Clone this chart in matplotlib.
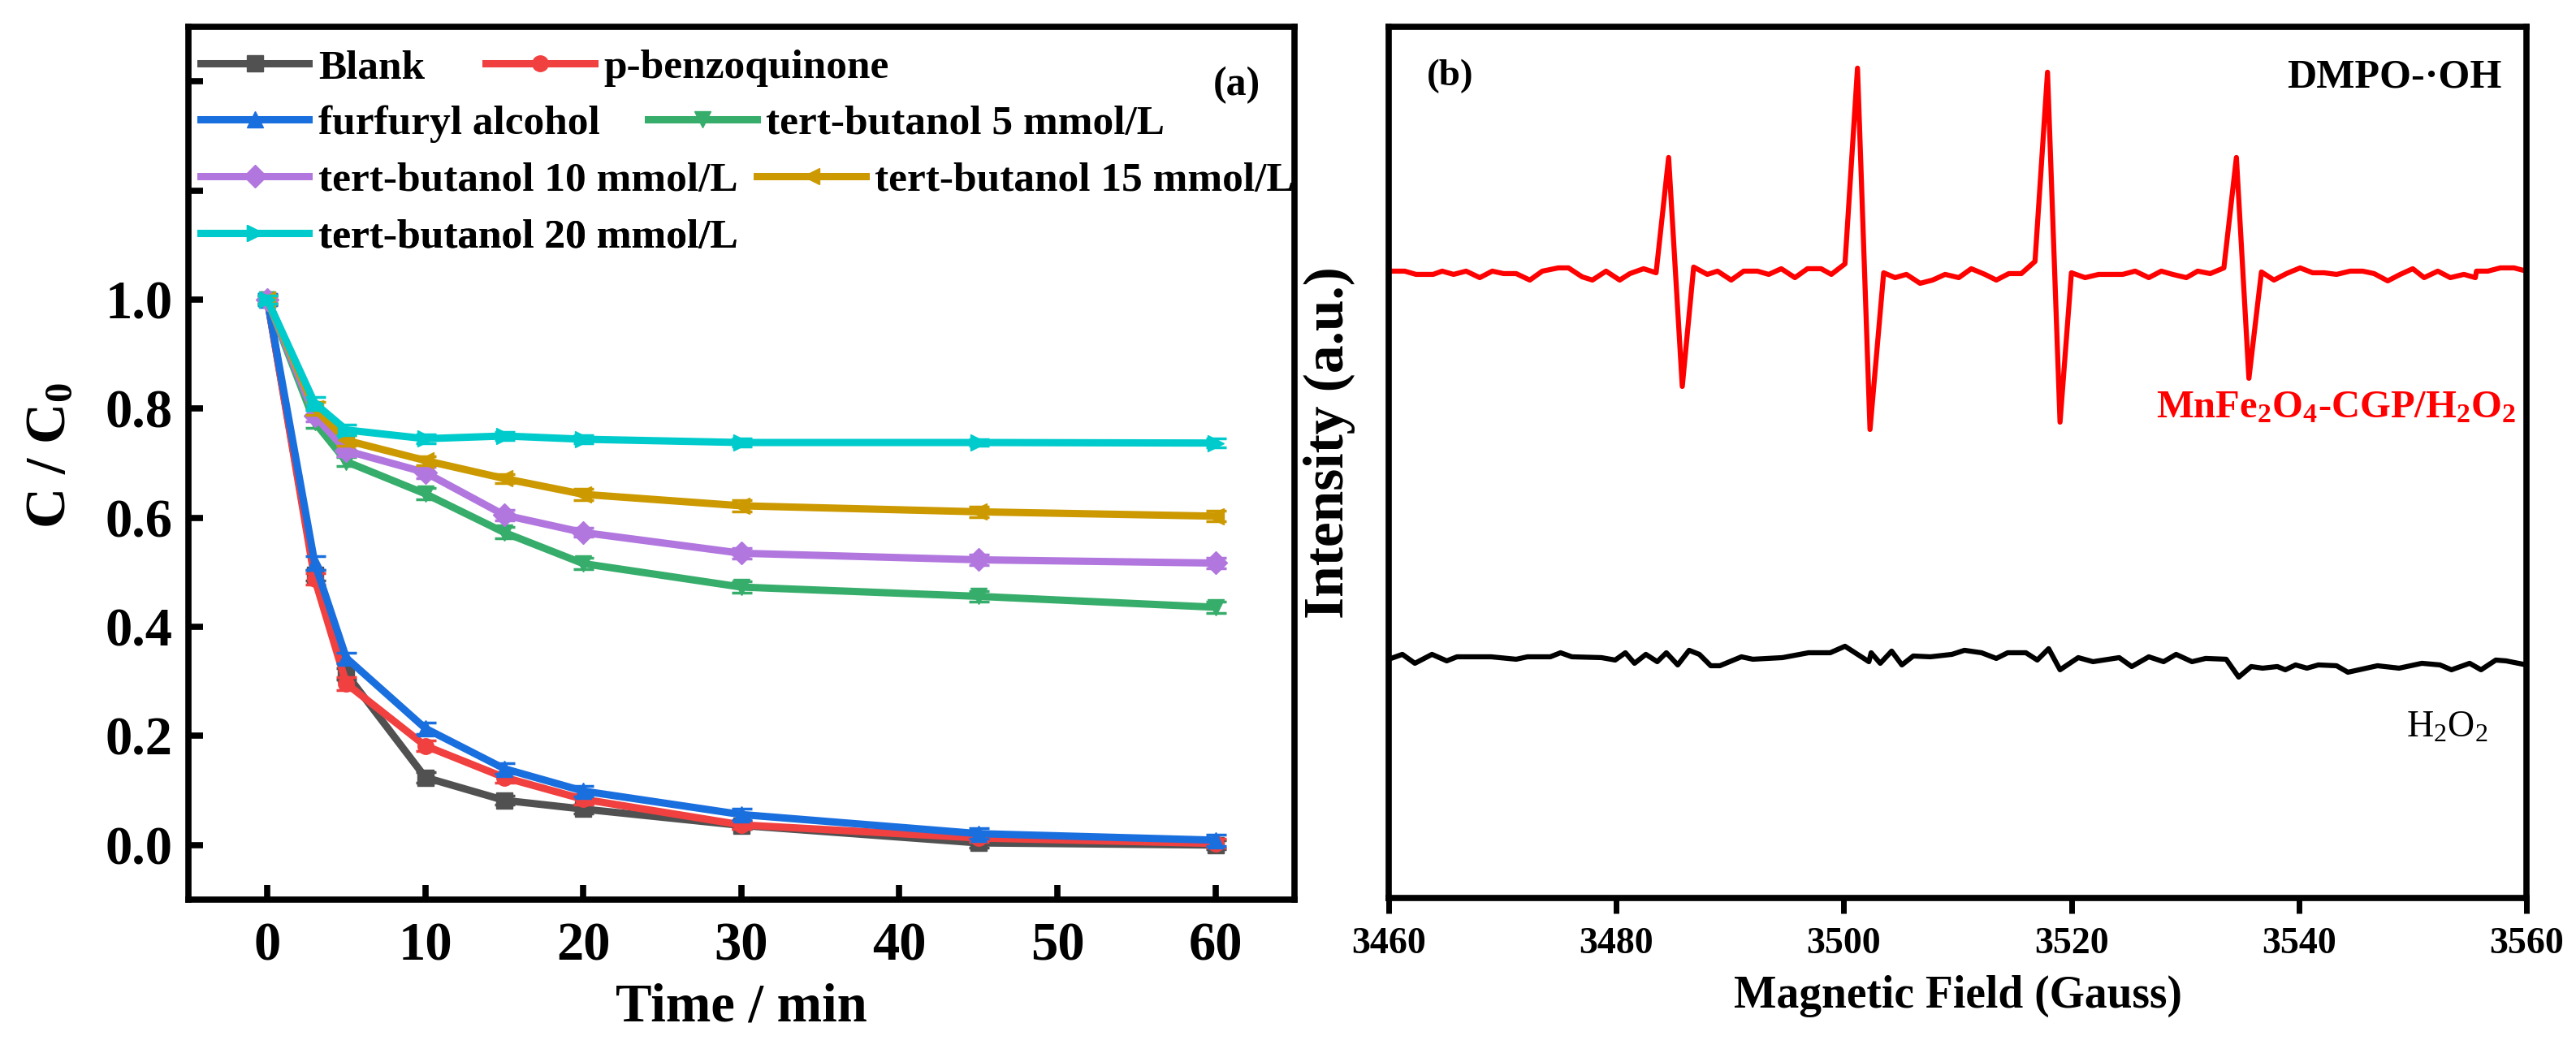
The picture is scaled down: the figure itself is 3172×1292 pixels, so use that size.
import matplotlib
matplotlib.use('Agg')
import matplotlib.pyplot as plt

plt.rcParams['font.family'] = 'Liberation Serif'
plt.rcParams['font.weight'] = 'bold'
plt.rcParams['axes.labelweight'] = 'bold'
plt.rcParams['mathtext.default'] = 'regular'

# ---- panel (a): degradation curves ----
time = [0, 3, 5, 10, 15, 20, 30, 45, 60]
labels = ['Blank', 'p-benzoquinone', 'furfuryl alcohol', 'tert-butanol 5 mmol/L',
          'tert-butanol 10 mmol/L', 'tert-butanol 15 mmol/L', 'tert-butanol 20 mmol/L']
blank = [1.0, 0.495, 0.314, 0.124, 0.082, 0.066, 0.036, 0.004, 0.0]
pbq = [1.0, 0.488, 0.296, 0.182, 0.124, 0.084, 0.037, 0.013, 0.003]
ffa = [1.0, 0.517, 0.343, 0.214, 0.140, 0.099, 0.056, 0.021, 0.009]
tba5 = [1.0, 0.775, 0.703, 0.644, 0.573, 0.516, 0.473, 0.456, 0.436]
tba10 = [1.0, 0.787, 0.723, 0.683, 0.605, 0.573, 0.535, 0.523, 0.517]
tba15 = [1.0, 0.800, 0.742, 0.705, 0.672, 0.643, 0.622, 0.611, 0.603]
tba20 = [1.0, 0.810, 0.761, 0.745, 0.750, 0.744, 0.738, 0.738, 0.737]
err_blank = [0.008, 0.01, 0.01, 0.01, 0.008, 0.008, 0.006, 0.008, 0.008]
err_pbq = [0.008, 0.01, 0.012, 0.01, 0.01, 0.01, 0.008, 0.008, 0.008]
err_ffa = [0.01, 0.012, 0.01, 0.01, 0.01, 0.01, 0.01, 0.01, 0.01]
err_tba5 = [0.008, 0.01, 0.008, 0.01, 0.01, 0.01, 0.01, 0.01, 0.01]
err_tba10 = [0.008, 0.01, 0.01, 0.01, 0.01, 0.008, 0.01, 0.01, 0.01]
err_tba15 = [0.008, 0.012, 0.01, 0.008, 0.008, 0.01, 0.01, 0.01, 0.01]
err_tba20 = [0.008, 0.012, 0.01, 0.008, 0.008, 0.008, 0.008, 0.006, 0.008]

series = [blank, pbq, ffa, tba5, tba10, tba15, tba20]
errors = [err_blank, err_pbq, err_ffa, err_tba5, err_tba10, err_tba15, err_tba20]
colors = ['#515151', '#F14040', '#1A6FDF', '#37AD6B', '#B177DE', '#CC9900', '#00CBCC']
markers = ['s', 'o', '^', 'v', 'D', '<', '>']
# legend entry anchors (axes fraction), laid out like the original flowing legend
legend_pos = [(0.011, 0.953), (0.269, 0.953), (0.011, 0.889), (0.416, 0.889),
              (0.011, 0.824), (0.514, 0.824), (0.011, 0.759)]

yticks = [0.0, 0.2, 0.4, 0.6, 0.8, 1.0, 1.2, 1.4]
yticklabels = ['0.0', '0.2', '0.4', '0.6', '0.8', '1.0', '', '']
xticks = [0, 10, 20, 30, 40, 50, 60]

# ---- panel (b): EPR spectra ----
field_red = [3460.1, 3461.4, 3462.4, 3463.9, 3464.7, 3465.7, 3466.8, 3468.0, 3469.1, 3470.1,
             3471.2, 3472.4, 3473.5, 3474.9, 3475.8, 3477.0, 3477.9, 3479.1, 3480.3, 3481.2,
             3482.4, 3483.5, 3484.6, 3485.8, 3486.8, 3488.0, 3488.9, 3490.1, 3491.2, 3492.4,
             3493.4, 3494.5, 3495.7, 3496.8, 3498.0, 3498.9, 3500.1, 3501.2, 3502.3, 3503.5,
             3504.5, 3505.5, 3506.7, 3507.8, 3508.9, 3510.1, 3511.2, 3512.4, 3513.4, 3514.5,
             3515.6, 3516.8, 3517.9, 3519.0, 3520.0, 3521.2, 3522.4, 3523.5, 3524.5, 3525.6,
             3526.8, 3527.9, 3528.9, 3530.1, 3531.1, 3532.2, 3533.4, 3534.5, 3535.6, 3536.7,
             3537.8, 3538.9, 3540.1, 3541.2, 3542.2, 3543.3, 3544.5, 3545.6, 3546.6, 3547.8,
             3548.9, 3550.0, 3551.0, 3552.2, 3553.3, 3554.5, 3555.5, 3555.6, 3556.6, 3557.7,
             3558.9, 3560.0]
int_red = [77.2, 77.2, 76.8, 76.8, 77.2, 76.8, 77.2, 76.4, 77.2, 76.9,
           76.9, 76.1, 77.2, 77.6, 77.6, 76.5, 76.1, 77.2, 76.1, 76.9,
           77.5, 77.0, 91.2, 63.0, 77.7, 76.8, 77.2, 76.1, 77.2, 77.2,
           76.8, 77.5, 76.4, 77.5, 77.5, 76.8, 78.1, 102.2, 57.7, 77.0,
           76.4, 76.8, 75.7, 76.1, 76.8, 76.4, 77.5, 76.8, 76.1, 76.9,
           76.9, 78.4, 101.7, 58.6, 77.0, 76.4, 76.8, 76.8, 76.8, 77.2,
           76.4, 77.2, 76.8, 76.4, 77.2, 76.9, 77.6, 91.2, 64.0, 77.1,
           76.1, 76.9, 77.6, 77.0, 77.0, 76.8, 77.2, 77.2, 76.9, 76.0,
           76.8, 77.5, 76.4, 77.2, 76.4, 76.8, 76.4, 77.2, 77.2, 77.6,
           77.6, 77.2]
field_black = [3460.0, 3461.2, 3462.3, 3463.8, 3465.1, 3466.0, 3469.0, 3471.2, 3472.2, 3474.2,
               3475.1, 3476.1, 3478.7, 3479.9, 3480.8, 3481.6, 3482.6, 3483.6, 3484.4, 3485.4,
               3486.4, 3487.3, 3488.3, 3489.1, 3491.0, 3492.0, 3494.6, 3496.9, 3498.8, 3500.1,
               3502.2, 3502.4, 3503.2, 3504.2, 3505.1, 3506.1, 3507.6, 3509.5, 3510.6, 3512.1,
               3513.4, 3514.4, 3516.0, 3517.0, 3518.0, 3519.0, 3520.6, 3521.9, 3524.2, 3525.3,
               3526.8, 3528.1, 3529.2, 3530.6, 3531.8, 3533.6, 3534.7, 3535.8, 3536.8, 3538.1,
               3538.8, 3539.7, 3540.7, 3541.7, 3543.3, 3544.3, 3546.9, 3548.8, 3550.8, 3552.4,
               3553.4, 3555.0, 3556.0, 3557.3, 3558.2, 3560.0]
int_black = [29.4, 30.0, 28.9, 30.0, 29.2, 29.7, 29.7, 29.4, 29.7, 29.7,
             30.2, 29.7, 29.6, 29.3, 30.2, 28.9, 30.0, 29.1, 30.2, 28.7,
             30.5, 30.0, 28.6, 28.6, 29.7, 29.4, 29.6, 30.2, 30.2, 31.0,
             29.1, 30.2, 28.9, 30.4, 28.7, 29.8, 29.7, 30.0, 30.5, 30.2,
             29.5, 30.2, 30.2, 29.3, 30.7, 28.1, 29.6, 29.1, 29.6, 28.5,
             29.7, 29.1, 30.0, 29.1, 29.5, 29.4, 27.2, 28.5, 28.3, 28.5,
             28.1, 28.7, 28.3, 28.7, 28.6, 27.8, 28.6, 28.3, 28.9, 28.7,
             28.1, 28.9, 28.1, 29.3, 29.2, 28.7]
field_ticks = [3460, 3480, 3500, 3520, 3540, 3560]

fig = plt.figure(figsize=(31.72, 12.92), dpi=100)
ax1 = fig.add_axes([0.0731, 0.1424, 0.4294, 0.832])
ax2 = fig.add_axes([0.5391, 0.144, 0.4417, 0.8305])

handles = []
for y, e, c, m in zip(series, errors, colors, markers):
    ax1.errorbar(time, y, yerr=e, fmt='none', ecolor=c, elinewidth=2.5, capsize=9, capthick=2.5)
    ln, = ax1.plot(time, y, color=c, marker=m, markersize=14, lw=6.5)
    handles.append(ln)

for h, lab, pos in zip(handles, labels, legend_pos):
    leg = ax1.legend([h], [lab], loc='center left', bbox_to_anchor=pos, frameon=False,
                     fontsize=37, borderpad=0, borderaxespad=0, handlelength=2.6,
                     handletextpad=0.22, numpoints=1)
    ax1.add_artist(leg)

ax1.set_xlim(-5, 65)
ax1.set_ylim(-0.1, 1.5)
ax1.set_xticks(xticks)
ax1.set_yticks(yticks)
ax1.set_yticklabels(yticklabels)
ax1.tick_params(direction='in', length=13, width=5.5, labelsize=48, top=False, right=False)
ax1.tick_params(axis='x', pad=20)
ax1.tick_params(axis='y', pad=14)
ax1.set_xlabel('Time / min', fontsize=48, labelpad=10)
ax1.set_ylabel('C / C$_0$', fontsize=50)
ax1.yaxis.set_label_coords(-0.101, 0.509)
ax1.text(0.948, 0.933, '(a)', transform=ax1.transAxes, fontsize=36, ha='center', va='center')

ax2.plot(field_red, int_red, color='#FF0000', lw=4.5)
ax2.plot(field_black, int_black, color='black', lw=4.5)
ax2.set_xlim(3460, 3560)
ax2.set_ylim(0, 107.3)
ax2.set_xticks(field_ticks)
ax2.tick_params(axis='x', direction='out', length=14, width=5, labelsize=33, pad=12)
ax2.tick_params(axis='y', left=False, labelleft=False)
ax2.set_xlabel('Magnetic Field (Gauss)', fontsize=40, labelpad=12)
ax2.set_ylabel('Intensity (a.u.)', fontsize=50)
ax2.yaxis.set_label_coords(-0.029, 0.523)
ax2.text(0.054, 0.943, '(b)', transform=ax2.transAxes, fontsize=34, ha='center', va='center')
ax2.text(0.978, 0.942, 'DMPO-·OH', transform=ax2.transAxes, fontsize=36, ha='right', va='center')
ax2.text(0.991, 0.551, 'MnFe$_2$O$_4$-CGP/H$_2$O$_2$', transform=ax2.transAxes, fontsize=35,
         color='#FF0000', ha='right', va='baseline')
ax2.text(0.966, 0.1845, 'H$_2$O$_2$', transform=ax2.transAxes, fontsize=33, fontweight='normal',
         ha='right', va='baseline')

for ax in (ax1, ax2):
    for sp in ax.spines.values():
        sp.set_linewidth(5.5)

fig.savefig('out.png', dpi=100)
